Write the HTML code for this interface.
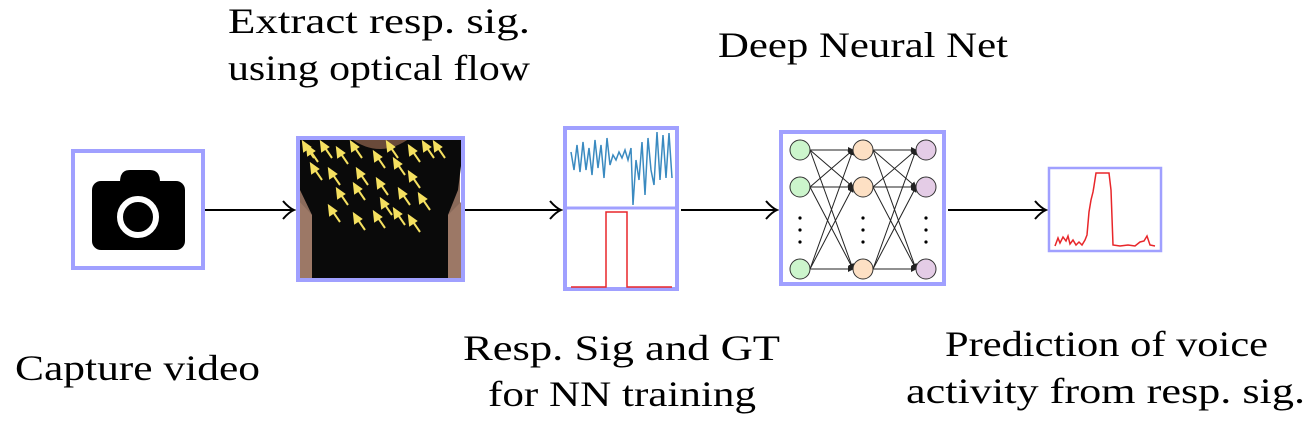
<!DOCTYPE html>
<html><head><meta charset="utf-8"><style>html,body{margin:0;padding:0;background:#fff}svg{display:block}</style></head><body>
<svg width="1310" height="429" viewBox="0 0 1310 429" xmlns="http://www.w3.org/2000/svg">
<defs>
<marker id="ah" markerWidth="14" markerHeight="20" refX="12" refY="10" orient="auto" markerUnits="userSpaceOnUse">
<path d="M1,1 Q7,8 12,10 Q7,12 1,19" fill="none" stroke="#000" stroke-width="2"/>
</marker>
<marker id="sa" markerWidth="6" markerHeight="6" refX="5" refY="3" orient="auto" markerUnits="userSpaceOnUse">
<path d="M0,0 L6,3 L0,6 z" fill="#222"/>
</marker>
<clipPath id="cp"><rect x="298" y="138" width="165" height="142"/></clipPath>
</defs>
<g font-family="'Liberation Serif',serif" font-size="36" fill="#000">
<text x="228" y="33" textLength="302" lengthAdjust="spacingAndGlyphs">Extract resp. sig.</text>
<text x="228" y="80" textLength="302" lengthAdjust="spacingAndGlyphs">using optical flow</text>
<text x="718" y="57" textLength="290" lengthAdjust="spacingAndGlyphs">Deep Neural Net</text>
<text x="15" y="380" textLength="245" lengthAdjust="spacingAndGlyphs">Capture video</text>
<text x="463" y="360" textLength="317" lengthAdjust="spacingAndGlyphs">Resp. Sig and GT</text>
<text x="488" y="406" textLength="268" lengthAdjust="spacingAndGlyphs">for NN training</text>
<text x="945" y="356" textLength="323" lengthAdjust="spacingAndGlyphs">Prediction of voice</text>
<text x="906" y="403" textLength="399" lengthAdjust="spacingAndGlyphs">activity from resp. sig.</text>
</g>
<g stroke="#000" stroke-width="2" fill="none">
<line x1="205" y1="210" x2="294" y2="210" marker-end="url(#ah)"/>
<line x1="465" y1="210" x2="561" y2="210" marker-end="url(#ah)"/>
<line x1="681" y1="210" x2="777" y2="210" marker-end="url(#ah)"/>
<line x1="948" y1="210" x2="1046" y2="210" marker-end="url(#ah)"/>
</g>
<rect x="73" y="151" width="130" height="117" fill="#fff" stroke="#a0a0ff" stroke-width="4"/>
<path d="M120,182 Q120,170 130,170 L150,170 Q160,170 160,182 Z" fill="#000"/>
<rect x="92" y="181" width="93" height="69" rx="9" fill="#000"/>
<circle cx="138" cy="217" r="18" fill="none" stroke="#fff" stroke-width="6"/>
<rect x="298" y="138" width="165" height="142" fill="#fff"/>
<path d="M300,145 L460,145 L460,280 L300,280 Z" fill="#8a6a5a"/>
<path d="M298,138 L463,138 L463,150 L458,190 L448,215 L448,281 L312,281 L312,215 L300,190 Z" fill="#0a0a0a"/>
<path d="M298,200 L312,215 L312,281 L300,281 Z" fill="#9c7866"/>
<path d="M463,200 L448,215 L448,281 L463,281 Z" fill="#9c7866"/>
<path d="M350,138 Q380,160 410,138 Z" fill="#6a4a3a"/>
<g stroke="#f5e060" stroke-width="2" fill="#f5e060" clip-path="url(#cp)">
<g id="ar"><line x1="0" y1="0" x2="-11" y2="-16"/><path d="M-11,-16 l1,9 l6,-4 z"/></g>
<use href="#ar" x="318" y="162"/><use href="#ar" x="332" y="158"/><use href="#ar" x="348" y="164"/>
<use href="#ar" x="362" y="158"/><use href="#ar" x="322" y="180"/><use href="#ar" x="340" y="185"/>
<use href="#ar" x="348" y="205"/><use href="#ar" x="365" y="200"/><use href="#ar" x="388" y="195"/>
<use href="#ar" x="385" y="168"/><use href="#ar" x="405" y="175"/><use href="#ar" x="398" y="158"/>
<use href="#ar" x="420" y="162"/><use href="#ar" x="445" y="158"/><use href="#ar" x="420" y="188"/>
<use href="#ar" x="410" y="205"/><use href="#ar" x="430" y="210"/><use href="#ar" x="365" y="230"/>
<use href="#ar" x="385" y="228"/><use href="#ar" x="405" y="225"/><use href="#ar" x="420" y="232"/>
<use href="#ar" x="314" y="158"/><use href="#ar" x="434" y="158"/><use href="#ar" x="340" y="222"/>
<use href="#ar" x="392" y="215"/><use href="#ar" x="368" y="185"/>
</g>
<rect x="298" y="138" width="165" height="142" fill="none" stroke="#a0a0ff" stroke-width="4"/>
<rect x="565" y="128" width="112" height="161" fill="#fff" stroke="#a0a0ff" stroke-width="4"/>
<line x1="565" y1="208" x2="677" y2="208" stroke="#a0a0ff" stroke-width="3"/>
<polyline fill="none" stroke="#3a8ac0" stroke-width="1.5" points="571,152 574,170 577,145 580,172 583,142 586,170 589,148 592,175 595,140 598,168 601,145 604,178 607,138 610,165 613,155 616,160 619,152 622,158 625,150 628,160 631,148 633,205 636,160 639,180 642,142 645,195 648,138 651,170 654,185 657,132 660,180 663,135 666,178 669,133 672,178"/>
<polyline fill="none" stroke="#e8262a" stroke-width="1.5" points="571,287 606,287 606,212 627,212 627,287 672,287"/>
<rect x="781" y="132" width="163" height="152" fill="#fff" stroke="#a0a0ff" stroke-width="4"/>
<g stroke="#222" stroke-width="1" marker-end="url(#sa)">
<line x1="810" y1="150" x2="853" y2="150"/><line x1="810" y1="150" x2="853" y2="187"/><line x1="810" y1="150" x2="853" y2="269"/>
<line x1="810" y1="187" x2="853" y2="150"/><line x1="810" y1="187" x2="853" y2="187"/><line x1="810" y1="187" x2="853" y2="269"/>
<line x1="810" y1="269" x2="853" y2="150"/><line x1="810" y1="269" x2="853" y2="187"/><line x1="810" y1="269" x2="853" y2="269"/>
<line x1="873" y1="150" x2="916" y2="150"/><line x1="873" y1="150" x2="916" y2="187"/><line x1="873" y1="150" x2="916" y2="269"/>
<line x1="873" y1="187" x2="916" y2="150"/><line x1="873" y1="187" x2="916" y2="187"/><line x1="873" y1="187" x2="916" y2="269"/>
<line x1="873" y1="269" x2="916" y2="150"/><line x1="873" y1="269" x2="916" y2="187"/><line x1="873" y1="269" x2="916" y2="269"/>
</g>
<g stroke="#333" stroke-width="1">
<circle cx="800" cy="150" r="10" fill="#ccf5cc"/><circle cx="800" cy="187" r="10" fill="#ccf5cc"/><circle cx="800" cy="269" r="10" fill="#ccf5cc"/>
<circle cx="863" cy="150" r="10" fill="#fde0c4"/><circle cx="863" cy="187" r="10" fill="#fde0c4"/><circle cx="863" cy="269" r="10" fill="#fde0c4"/>
<circle cx="926" cy="150" r="10" fill="#e4cce6"/><circle cx="926" cy="187" r="10" fill="#e4cce6"/><circle cx="926" cy="269" r="10" fill="#e4cce6"/>
</g>
<g fill="#000">
<circle cx="800" cy="218" r="1.6"/><circle cx="800" cy="230" r="1.6"/><circle cx="800" cy="242" r="1.6"/>
<circle cx="863" cy="218" r="1.6"/><circle cx="863" cy="230" r="1.6"/><circle cx="863" cy="242" r="1.6"/>
<circle cx="926" cy="218" r="1.6"/><circle cx="926" cy="230" r="1.6"/><circle cx="926" cy="242" r="1.6"/>
</g>
<rect x="1049" y="168" width="112" height="83" fill="#fff" stroke="#a0a0ff" stroke-width="2.5"/>
<polyline fill="none" stroke="#e8262a" stroke-width="1.5" points="1055,246 1058,238 1060,243 1063,237 1066,241 1068,236 1070,244 1073,240 1076,245 1079,242 1082,245 1085,240 1087,235 1089,212 1091,200 1093,192 1094,186 1096,173 1109,173 1111,190 1113,245 1120,246 1128,245 1135,246 1140,242 1144,241 1147,236 1150,245 1155,246"/>
</svg>
</body></html>
